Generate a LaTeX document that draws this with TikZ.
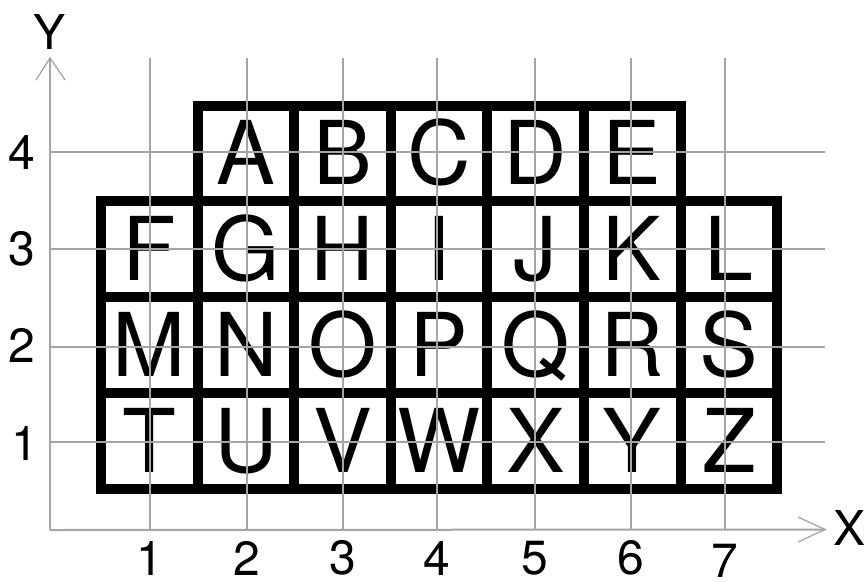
\documentclass[tikz,border=0pt]{standalone}
\usepackage{fontspec}
\setmainfont{TeX Gyre Heros}
\definecolor{gridgray}{RGB}{165,165,165}
\begin{document}
\begin{tikzpicture}[x=1pt,y=-1pt,
  cellbox/.style={draw=black,line width=10pt},
  gridline/.style={draw=gridgray,line width=2pt},
  axisline/.style={draw=gridgray,line width=2pt},
  arrowline/.style={draw=gridgray,line width=1.3pt},
  letter/.style={anchor=base,inner sep=0pt,font=\fontsize{88}{88}\selectfont},
  ticklabel/.style={inner sep=0pt,font=\fontsize{48}{48}\selectfont}]
\useasboundingbox (0,0) rectangle (864,581);
% cells with letters
\foreach \l/\c/\r in {A/1/0,B/2/0,C/3/0,D/4/0,E/5/0,
  F/0/1,G/1/1,H/2/1,I/3/1,J/4/1,K/5/1,L/6/1,
  M/0/2,N/1/2,O/2/2,P/3/2,Q/4/2,R/5/2,S/6/2,
  T/0/3,U/1/3,V/2/3,W/3/3,X/4/3,Y/5/3,Z/6/3}{
  \draw[cellbox] (101+96.6*\c,105.5+95.75*\r) rectangle ++(96.6,95.75);
  \node[letter] (cell\l) at (149.3+96.6*\c,184.9+95.75*\r) {\l};
}
% grid lines
\foreach \gx in {150,246.7,343.3,437.3,535,631,725}{
  \draw[gridline] (\gx,58) -- (\gx,530);
}
\foreach \gy in {151.7,249,346.7,441.7}{
  \draw[gridline] (50,\gy) -- (825,\gy);
}
% axes
\coordinate (orig) at (50,530);
\coordinate (xend) at (825,529.5);
\coordinate (yend) at (50,58);
\draw[axisline] (orig) -- (xend);
\draw[axisline] (orig) -- (yend);
\coordinate (xw1) at (798,517);
\coordinate (xw2) at (798,542);
\coordinate (yw1) at (36,80);
\coordinate (yw2) at (65,80);
\draw[arrowline] (xw1) -- (xend) -- (xw2);
\draw[arrowline] (yw1) -- (yend) -- (yw2);
% axis labels
\node[ticklabel] (xlabel) at (849,528) {X};
\node[ticklabel] (ylabel) at (50,32) {Y};
\node[ticklabel] (xt1) at (150,558) {1};
\node[ticklabel] (xt2) at (246.7,558) {2};
\node[ticklabel] (xt3) at (343.3,558) {3};
\node[ticklabel] (xt4) at (437.3,558) {4};
\node[ticklabel] (xt5) at (535,558) {5};
\node[ticklabel] (xt6) at (631,558) {6};
\node[ticklabel] (xt7) at (725,561) {7};
\node[ticklabel] (yt4) at (22,152) {4};
\node[ticklabel] (yt3) at (22,249) {3};
\node[ticklabel] (yt2) at (22,345) {2};
\node[ticklabel] (yt1) at (25,443) {1};
\end{tikzpicture}
\end{document}
